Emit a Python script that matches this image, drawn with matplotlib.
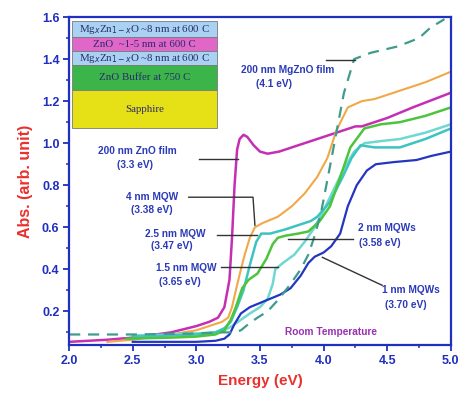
import matplotlib
matplotlib.use('Agg')
import matplotlib.pyplot as plt
from matplotlib.patches import Rectangle
from matplotlib.ticker import MultipleLocator, FormatStrFormatter

plt.rcParams['font.family'] = ['Liberation Sans', 'DejaVu Sans']

# absorption spectra
znofilm_x = [2.0, 2.3, 2.5, 2.8, 3.0, 3.1, 3.17, 3.22, 3.26, 3.28, 3.30, 3.32, 3.34, 3.37, 3.40,
             3.45, 3.50, 3.56, 3.65, 3.8, 4.0, 4.2, 4.25, 4.3, 4.5, 4.7, 5.0]
znofilm_y = [0.055, 0.065, 0.075, 0.10, 0.13, 0.15, 0.17, 0.22, 0.35, 0.55, 0.80, 0.97, 1.02, 1.04, 1.03,
             0.99, 0.96, 0.95, 0.96, 0.99, 1.03, 1.07, 1.08, 1.08, 1.12, 1.17, 1.24]

mqw4_x = [2.3, 2.5, 2.8, 3.0, 3.1, 3.2, 3.25, 3.28, 3.31, 3.35, 3.38, 3.42, 3.46, 3.52, 3.64,
          3.75, 3.85, 3.95, 4.03, 4.1, 4.19, 4.3, 4.4, 4.6, 4.8, 5.0]
mqw4_y = [0.055, 0.065, 0.09, 0.11, 0.13, 0.15, 0.17, 0.22, 0.30, 0.40, 0.47, 0.55, 0.60, 0.62, 0.65,
          0.70, 0.76, 0.84, 0.93, 1.06, 1.17, 1.20, 1.21, 1.25, 1.29, 1.34]

green_x = [2.45, 2.8, 3.0, 3.15, 3.22, 3.27, 3.31, 3.36, 3.41, 3.48, 3.55, 3.60, 3.64, 3.70, 3.80,
           3.88, 3.97, 4.05, 4.12, 4.21, 4.32, 4.45, 4.6, 4.8, 5.0]
green_y = [0.07, 0.075, 0.08, 0.09, 0.11, 0.16, 0.22, 0.31, 0.35, 0.38, 0.45, 0.52, 0.55, 0.56, 0.57,
           0.58, 0.63, 0.70, 0.82, 0.98, 1.07, 1.09, 1.10, 1.13, 1.17]

cyan1_x = [2.5, 2.8, 3.0, 3.15, 3.22, 3.27, 3.32, 3.37, 3.42, 3.47, 3.51, 3.58, 3.7, 3.8, 3.9,
           3.95, 4.05, 4.15, 4.22, 4.29, 4.4, 4.6, 4.8, 5.0]
cyan1_y = [0.08, 0.085, 0.09, 0.10, 0.12, 0.15, 0.22, 0.30, 0.42, 0.53, 0.57, 0.57, 0.59, 0.61, 0.63,
           0.65, 0.72, 0.84, 0.93, 0.99, 0.98, 0.98, 1.02, 1.07]

cyan2_x = [2.5, 2.8, 3.0, 3.15, 3.22, 3.28, 3.35, 3.42, 3.50, 3.56, 3.60, 3.62, 3.68, 3.77, 3.85,
           3.93, 4.0, 4.08, 4.16, 4.24, 4.32, 4.45, 4.6, 4.8, 5.0]
cyan2_y = [0.085, 0.09, 0.095, 0.10, 0.11, 0.13, 0.16, 0.19, 0.22, 0.26, 0.33, 0.40, 0.43, 0.47, 0.53,
           0.60, 0.68, 0.78, 0.88, 0.96, 1.00, 1.01, 1.02, 1.05, 1.09]

blue_x = [2.5, 2.8, 3.0, 3.15, 3.22, 3.26, 3.30, 3.35, 3.42, 3.50, 3.58, 3.66, 3.74, 3.82, 3.88,
          3.93, 4.0, 4.06, 4.13, 4.19, 4.26, 4.34, 4.41, 4.55, 4.73, 4.85, 5.0]
blue_y = [0.055, 0.055, 0.055, 0.06, 0.07, 0.09, 0.14, 0.19, 0.22, 0.24, 0.26, 0.28, 0.31, 0.37, 0.43,
          0.46, 0.48, 0.51, 0.57, 0.70, 0.80, 0.87, 0.90, 0.91, 0.92, 0.94, 0.96]

mgzno_x = [2.0, 2.5, 3.0, 3.2, 3.3, 3.35, 3.41, 3.48, 3.56, 3.65, 3.74, 3.82, 3.88, 3.93, 3.98,
           4.05, 4.1, 4.16, 4.24, 4.37, 4.58, 4.75, 4.84, 4.95]
mgzno_y = [0.09, 0.09, 0.095, 0.10, 0.10, 0.11, 0.14, 0.17, 0.20, 0.26, 0.33, 0.40, 0.47, 0.56, 0.67,
           0.89, 1.05, 1.24, 1.40, 1.43, 1.46, 1.50, 1.55, 1.59]

# sample structure inset (top to bottom)
layer_labels = ['Mg$_x$Zn$_{1-x}$O ~8 nm at 600 C', 'ZnO  ~1-5 nm at 600 C',
                'Mg$_x$Zn$_{1-x}$O ~8 nm at 600 C', 'ZnO Buffer at 750 C', 'Sapphire']
layer_colors = ['#a9d2f2', '#e066c8', '#a9d2f2', '#3bb54a', '#e6e016']
layer_heights = [16, 14, 14, 25, 38]

blue = '#1f2fbf'
red = '#e8312f'

fig = plt.figure(figsize=(4.61, 3.97), dpi=100)
ax = fig.add_axes([0.150, 0.131, 0.828, 0.826])

ax.plot(znofilm_x, znofilm_y, color='#c42fb4', lw=1.8)
ax.plot(mqw4_x, mqw4_y, color='#f0a848', lw=1.5)
ax.plot(cyan2_x, cyan2_y, color='#6fd8d0', lw=1.8)
ax.plot(cyan1_x, cyan1_y, color='#3cc4c0', lw=1.8)
ax.plot(green_x, green_y, color='#4cc43c', lw=1.8)
ax.plot(blue_x, blue_y, color='#2435c0', lw=1.6)
ax.plot(mgzno_x, mgzno_y, color='#3f9c8c', lw=1.6, dashes=(5, 3.5))

ax.set_xlim(2.0, 5.0)
ax.set_ylim(0.04, 1.6)
ax.xaxis.set_major_locator(MultipleLocator(0.5))
ax.xaxis.set_minor_locator(MultipleLocator(0.25))
ax.yaxis.set_major_locator(MultipleLocator(0.2))
ax.yaxis.set_minor_locator(MultipleLocator(0.1))
ax.xaxis.set_major_formatter(FormatStrFormatter('%.1f'))
ax.yaxis.set_major_formatter(FormatStrFormatter('%.1f'))
ax.set_yticks([0.2, 0.4, 0.6, 0.8, 1.0, 1.2, 1.4, 1.6])

for s in ax.spines.values():
    s.set_color(blue)
    s.set_linewidth(1.6)
ax.tick_params(which='major', direction='out', length=4, width=1.3, color=blue,
               labelcolor=blue, labelsize=9, pad=3)
ax.tick_params(which='minor', direction='out', length=2.5, width=1.1, color=blue)
for lab in ax.get_xticklabels() + ax.get_yticklabels():
    lab.set_fontweight('bold')

ax.set_xlabel('Energy (eV)', color=red, fontsize=11, fontweight='bold', labelpad=5)
ax.set_ylabel('Abs. (arb. unit)', color=red, fontsize=11.5, fontweight='bold', labelpad=6)

# inset: layer stack, in axes pixels measured from the top
px_w, px_h = 382.0, 328.0
box_left, box_right, top = 3 / px_w, 148 / px_w, 1 - 4 / px_h
for lab, col, h in zip(layer_labels, layer_colors, layer_heights):
    hh = h / px_h
    ax.add_patch(Rectangle((box_left, top - hh), box_right - box_left, hh, transform=ax.transAxes,
                           facecolor=col, edgecolor='#7a7a7a', lw=0.6, zorder=5))
    ax.text((box_left + box_right) / 2, top - hh / 2, lab, transform=ax.transAxes,
            ha='center', va='center', fontsize=7.8, color='#2a2a6a',
            family=['Liberation Serif', 'DejaVu Serif'], zorder=6)
    top -= hh

# annotations
txt = dict(color='#2a3ab8', fontsize=7.3, fontweight='bold')
lead = dict(color='#333333', lw=1.0)

ax.text(3.35, 1.35, '200 nm MgZnO film', ha='left', va='center', **txt)
ax.text(3.47, 1.28, '(4.1 eV)', ha='left', va='center', **txt)
ax.plot([4.02, 4.25], [1.395, 1.395], **lead)

ax.text(2.23, 0.965, '200 nm ZnO film', ha='left', va='center', **txt)
ax.text(2.38, 0.895, '(3.3 eV)', ha='left', va='center', **txt)
ax.plot([3.02, 3.33], [0.924, 0.924], **lead)

ax.text(2.45, 0.745, '4 nm MQW', ha='left', va='center', **txt)
ax.text(2.49, 0.68, '(3.38 eV)', ha='left', va='center', **txt)
ax.plot([2.94, 3.445, 3.46], [0.743, 0.743, 0.61], **lead)

ax.text(2.60, 0.57, '2.5 nm MQW', ha='left', va='center', **txt)
ax.text(2.64, 0.51, '(3.47 eV)', ha='left', va='center', **txt)
ax.plot([3.16, 3.48], [0.562, 0.562], **lead)

ax.text(2.68, 0.405, '1.5 nm MQW', ha='left', va='center', **txt)
ax.text(2.71, 0.338, '(3.65 eV)', ha='left', va='center', **txt)
ax.plot([3.19, 3.64], [0.41, 0.41], **lead)

ax.text(4.27, 0.595, '2 nm MQWs', ha='left', va='center', **txt)
ax.text(4.28, 0.525, '(3.58 eV)', ha='left', va='center', **txt)
ax.plot([3.72, 4.23], [0.543, 0.543], **lead)

ax.text(4.46, 0.30, '1 nm MQWs', ha='left', va='center', **txt)
ax.text(4.48, 0.23, '(3.70 eV)', ha='left', va='center', **txt)
ax.plot([3.99, 4.46], [0.457, 0.324], **lead)

ax.text(3.70, 0.10, 'Room Temperature', ha='left', va='center', color='#9a2fb0',
        fontsize=7.3, fontweight='bold')

fig.savefig('out.png', dpi=100)
